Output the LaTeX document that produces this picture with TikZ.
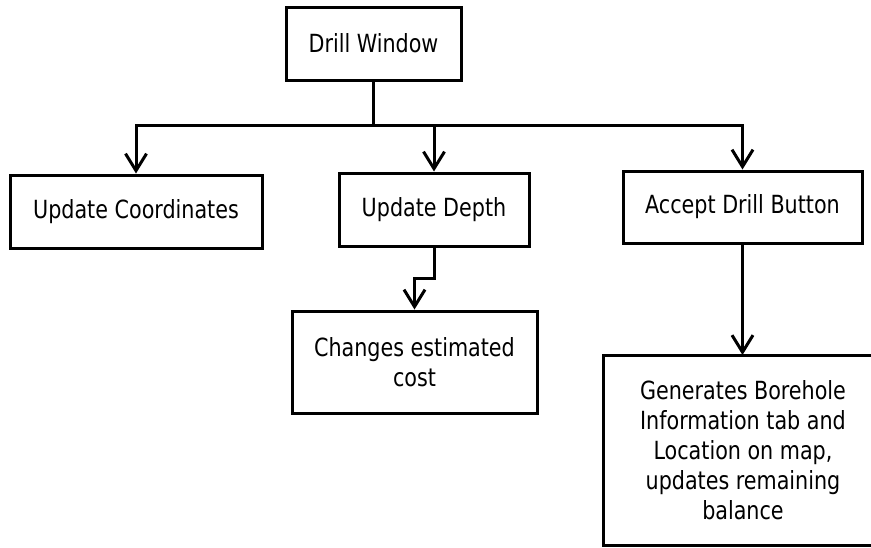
\documentclass[tikz,border=0pt]{standalone}
\usepackage{fontspec}
\setmainfont[FakeStretch=0.92]{DejaVu Sans Condensed}
\usetikzlibrary{arrows.meta}
\begin{document}
\begin{tikzpicture}[x=1pt,y=-1pt,
  box/.style={draw, line width=3pt, align=center, inner sep=0pt,
    font=\fontsize{25}{30}\selectfont},
  link/.style={line width=3pt},
  arr/.style={link, -{Straight Barb[length=17pt,width=21pt,line width=3pt]}}]
\useasboundingbox[fill=white] (0,0) rectangle (871,547);
% top of the tree
\node[box, minimum width=175pt, minimum height=73pt] (dw) at (373.5,43.5) {Drill Window};
% three actions
\node[box, minimum width=252pt, minimum height=73pt] (uc) at (136,211.5) {Update Coordinates};
\node[box, minimum width=190pt, minimum height=73pt] (ud) at (434,209.5) {Update Depth};
\node[box, minimum width=239pt, minimum height=72pt] (ad) at (742.5,207) {Accept Drill Button};
% results
\node[box, minimum width=245pt, minimum height=102pt] (ce) at (414.5,362) {Changes estimated\\cost};
% the last box runs past the right margin, so only three sides are drawn
\node[box, draw=none, minimum width=276pt, minimum height=190pt] (gb) at (743,450)
  {Generates Borehole\\Information tab and\\Location on map,\\updates remaining\\balance};
\coordinate (gbtr) at (871,355);
\coordinate (gbbr) at (871,545);
\draw[link] (gbtr) -- (gbtr -| gb.west) -- (gbbr -| gb.west) -- (gbbr);
% connectors
\coordinate (j) at (373.5,125);
\draw[link] (dw.south) -- (j);
\draw[arr] (j) -| (uc.north);
\draw[arr] (j) -| (ud.north);
\draw[arr] (j) -| (ad.north);
\draw[arr] (ud.south) -- ++(0,31) -| (ce.north);
\draw[arr] (ad.south) -- (ad.south |- gbtr);
\end{tikzpicture}
\end{document}
